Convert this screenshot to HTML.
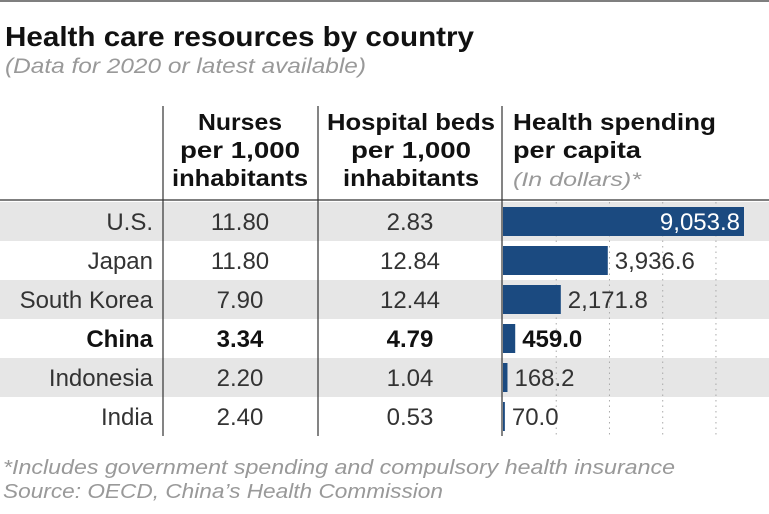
<!DOCTYPE html>
<html><head><meta charset="utf-8"><style>
body{margin:0;background:#fff;}
svg{display:block;font-family:"Liberation Sans",sans-serif;}
</style></head><body>
<svg id="chart" width="769" height="514">
<line x1="0" y1="1" x2="769" y2="1" stroke="#555" stroke-width="1.5"/>
<text x="5" y="46" font-size="28" font-weight="bold" fill="#111" textLength="469" lengthAdjust="spacingAndGlyphs">Health care resources by country</text>
<text x="5" y="73" font-size="21" font-style="italic" fill="#999" textLength="361" lengthAdjust="spacingAndGlyphs">(Data for 2020 or latest available)</text>
<g font-size="23" font-weight="bold" fill="#111">
<text text-anchor="middle" x="240" y="130" textLength="84" lengthAdjust="spacingAndGlyphs">Nurses</text>
<text text-anchor="middle" x="240" y="158" textLength="120" lengthAdjust="spacingAndGlyphs">per 1,000</text>
<text text-anchor="middle" x="240" y="186" textLength="136" lengthAdjust="spacingAndGlyphs">inhabitants</text>
<text text-anchor="middle" x="411" y="130" textLength="168" lengthAdjust="spacingAndGlyphs">Hospital beds</text>
<text text-anchor="middle" x="411" y="158" textLength="120" lengthAdjust="spacingAndGlyphs">per 1,000</text>
<text text-anchor="middle" x="411" y="186" textLength="136" lengthAdjust="spacingAndGlyphs">inhabitants</text>
<text x="513" y="130" textLength="203" lengthAdjust="spacingAndGlyphs">Health spending</text>
<text x="513" y="158" textLength="128" lengthAdjust="spacingAndGlyphs">per capita</text>
</g>
<text x="513" y="186" font-size="19" font-style="italic" fill="#999" textLength="128" lengthAdjust="spacingAndGlyphs">(In dollars)*</text>
<g id="rows"></g>
<line x1="0" y1="200" x2="769" y2="200" stroke="#333" stroke-width="1.2"/>
<line x1="163" y1="106" x2="163" y2="436" stroke="#333" stroke-width="1.2"/>
<line x1="318" y1="106" x2="318" y2="436" stroke="#333" stroke-width="1.2"/>
<line x1="502" y1="106" x2="502" y2="436" stroke="#333" stroke-width="1.2"/>
<text x="3" y="474" font-size="20" font-style="italic" fill="#999" textLength="672" lengthAdjust="spacingAndGlyphs">*Includes government spending and compulsory health insurance</text>
<text x="3" y="498" font-size="20" font-style="italic" fill="#999" textLength="440" lengthAdjust="spacingAndGlyphs">Source: OECD, China’s Health Commission</text>
</svg>
<script>
const countries = ["U.S.", "Japan", "South Korea", "China", "Indonesia", "India"];
const nurses = [11.80, 11.80, 7.90, 3.34, 2.20, 2.40];
const beds = [2.83, 12.84, 12.44, 4.79, 1.04, 0.53];
const spending = [9053.8, 3936.6, 2171.8, 459.0, 168.2, 70.0];
const gridTicks = [2000, 4000, 6000, 8000];
const highlight = "China";

const NS = "http://www.w3.org/2000/svg";
const g = document.getElementById("rows");
const x0 = 503, pxPerDollar = 241 / 9053.8;
const xs = v => x0 + v * pxPerDollar;
const rowTop = i => 202 + i * 39;
const rowH = 39;
const FS = 24;
function mk(tag, attrs, parent) {
  const e = document.createElementNS(NS, tag);
  for (const k in attrs) e.setAttribute(k, attrs[k]);
  (parent || g).appendChild(e);
  return e;
}
countries.forEach((c, i) => {
  if (i % 2 === 0) {
    const bg = mk("rect", {x: 0, y: rowTop(i), width: 769, height: rowH, fill: "#e6e6e6"});
    
    
  }
});
gridTicks.forEach(t => {
  const l = mk("line", {x1: xs(t), x2: xs(t), y1: 202, y2: 436, stroke: "#aaa", "stroke-width": 1, "stroke-dasharray": "1.5,4"});
  
  
});
countries.forEach((c, i) => {
  const y = rowTop(i), cy = y + rowH / 2 + 8.5;
  const bold = c === highlight ? "bold" : "normal";
  const col = c === highlight ? "#111" : "#333";
  const t1 = mk("text", {x: 153, y: cy, "text-anchor": "end", "font-size": FS, "font-weight": bold, fill: col});
  t1.textContent = c;
  
  
  const t2 = mk("text", {x: 240, y: cy, "text-anchor": "middle", "font-size": FS, "font-weight": bold, fill: col});
  t2.textContent = nurses[i].toFixed(2);
  
  
  const t3 = mk("text", {x: 410, y: cy, "text-anchor": "middle", "font-size": FS, "font-weight": bold, fill: col});
  t3.textContent = beds[i].toFixed(2);
  
  
  const w = Math.max(1.5, xs(spending[i]) - x0);
  const b = mk("rect", {x: x0, y: y + 5, width: w, height: rowH - 10, fill: "#1b4a80"});
  
  
  const lbl = spending[i].toLocaleString("en-US", {minimumFractionDigits: 1, maximumFractionDigits: 1});
  const inside = w > 150;
  const t4 = mk("text", {x: inside ? x0 + w - 4 : x0 + w + 7, y: cy, "text-anchor": inside ? "end" : "start", "font-size": FS, "font-weight": bold, fill: inside ? "#fff" : col});
  t4.textContent = lbl;
  
  
});
</script>
</body></html>
